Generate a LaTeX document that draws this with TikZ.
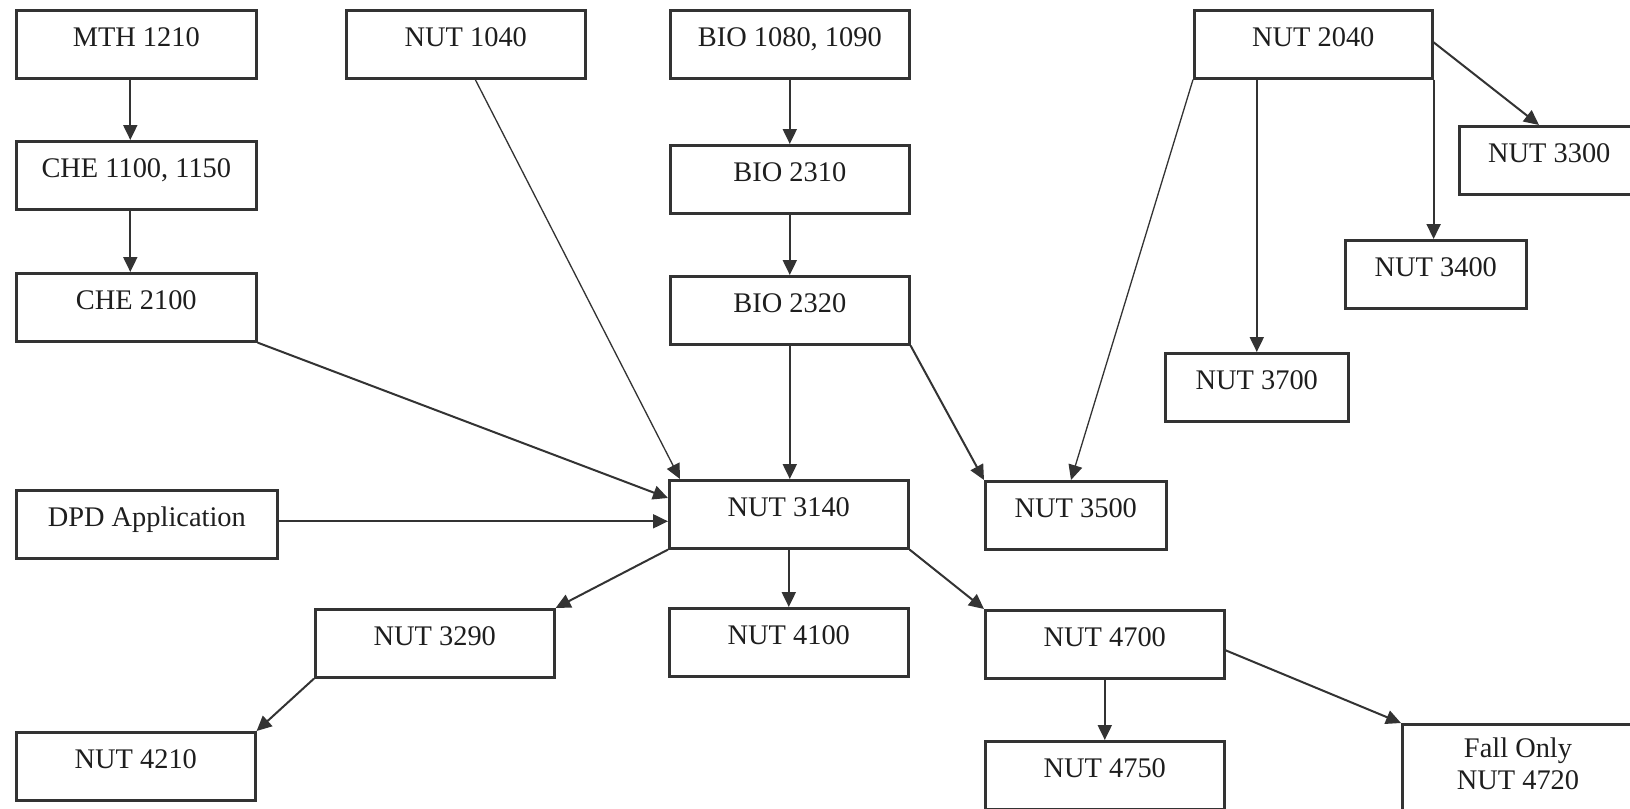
\documentclass[tikz,border=0pt]{standalone}
\usepackage{fontspec}
\setmainfont{Liberation Serif}
\usetikzlibrary{arrows.meta}
\definecolor{ink}{HTML}{333333}
\definecolor{txt}{HTML}{1E1E1E}
\begin{document}
\begin{tikzpicture}[x=0.5pt,y=-0.5pt,
  box/.style={draw=ink, line width=1.3pt, rectangle, inner sep=0pt, anchor=north west,
    text height=18pt, text depth=16pt, font=\fontsize{14.2pt}{16pt}\selectfont, text=txt},
  con/.style={draw=ink, line width=1pt, -{Triangle[length=7.5pt,width=7pt]}},
  thin/.style={line width=0.65pt}]
\path[use as bounding box] (0,0) rectangle (1630,809);
\clip (0,0) rectangle (1630,809);
\fill[white] (0,0) rectangle (1630,809);
% boxes
\node[box, minimum width=120pt] (mth) at (15,9) {MTH 1210};
\node[box, minimum width=120pt] (che1) at (15,140) {CHE 1100, 1150};
\node[box, minimum width=120pt] (che2) at (15,272) {CHE 2100};
\node[box, minimum width=119.5pt] (n1040) at (345,9) {NUT 1040};
\node[box, minimum width=119.5pt] (bio1) at (669,9) {BIO 1080, 1090};
\node[box, minimum width=119.5pt] (bio2310) at (669,144) {BIO 2310};
\node[box, minimum width=119.5pt] (bio2320) at (669,275) {BIO 2320};
\node[box, minimum width=119pt] (n2040) at (1193,9) {NUT 2040};
\node[box, minimum width=90pt] (n3300) at (1458,125) {NUT 3300};
\node[box, minimum width=90.5pt] (n3400) at (1344,239) {NUT 3400};
\node[box, minimum width=91.5pt] (n3700) at (1164,352) {NUT 3700};
\node[box, minimum width=130.5pt] (dpd) at (15,489) {DPD Application};
\node[box, minimum width=119.5pt] (n3140) at (668,479) {NUT 3140};
\node[box, minimum width=90.5pt] (n3500) at (984,480) {NUT 3500};
\node[box, minimum width=119.5pt] (n3290) at (314,608) {NUT 3290};
\node[box, minimum width=119.5pt] (n4100) at (668,607) {NUT 4100};
\node[box, minimum width=119.5pt] (n4700) at (984,609) {NUT 4700};
\node[box, minimum width=119.5pt] (n4210) at (15,731) {NUT 4210};
\node[box, minimum width=119.5pt] (n4750) at (984,740) {NUT 4750};
\node[draw=ink, line width=1.3pt, anchor=north west, inner sep=0pt,
      minimum width=117pt, minimum height=45pt] (f4720) at (1401,723) {};
\node[font=\fontsize{14.2pt}{16pt}\selectfont, text=txt, align=center, inner sep=0pt]
      (f4720t) at (1518,764) {Fall Only\\NUT 4720};
% connectors
\draw[con] ([xshift=-3pt]mth.south) -- ([xshift=-3pt]mth.south |- che1.north);
\draw[con] ([xshift=-3pt]che1.south) -- ([xshift=-3pt]che1.south |- che2.north);
\draw[con] (bio1.south) -- (bio2310.north);
\draw[con] (bio2310.south) -- (bio2320.north);
\draw[con] (bio2320.south) -- (bio2320.south |- n3140.north);
\draw[con] (che2.south east) -- ([yshift=-9.5pt]n3140.north west);
\draw[con, thin] ([xshift=4.75pt]n1040.south) -- ([xshift=6pt]n3140.north west);
\draw[con] ([yshift=1.5pt]dpd.east) -- ([yshift=1.5pt]dpd.east -| n3140.west);
\draw[con] (n3140.south west) -- (n3290.north east);
\draw[con] (n3140.south) -- (n4100.north);
\draw[con] (n3140.south east) -- (n4700.north west);
\draw[con] (n3290.south west) -- (n4210.north east);
\draw[con] (n4700.south) -- (n4750.north);
\draw[con] ([yshift=-3pt]n4700.east) -- (f4720.north west);
\draw[con] (bio2320.south east) -- (n3500.north west);
\draw[con, thin] (n2040.south west) -- ([xshift=43.5pt]n3500.north west);
\draw[con] (n3700.north |- n2040.south) -- (n3700.north);
\draw[con] (n2040.south east) -- (n2040.south east |- n3400.north);
\draw[con] ([yshift=1pt]n2040.east) -- ([xshift=40.5pt]n3300.north west);
\end{tikzpicture}
\end{document}
